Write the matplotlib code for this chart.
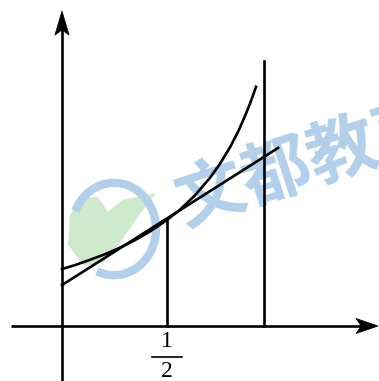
import matplotlib
matplotlib.use("Agg")
import matplotlib.pyplot as plt
from matplotlib.patches import Polygon, Arc

# ---- data (x: 1/2 tick at 0.5) ----
curve_x = [0.0, 0.062, 0.133, 0.205, 0.276, 0.348, 0.419, 0.5, 0.562, 0.633,
           0.705, 0.752, 0.8, 0.838, 0.871, 0.895, 0.924]
curve_y = [0.271, 0.290, 0.315, 0.342, 0.373, 0.409, 0.450, 0.505, 0.554, 0.622,
           0.706, 0.772, 0.851, 0.924, 0.999, 1.058, 1.139]
tangent_x = [0.0, 1.029]
tangent_y = [0.195, 0.848]
half_x = 0.5
half_top = 0.505
right_x = 0.962
right_top = 1.262
watermark = "文都教育"

fig = plt.figure(figsize=(3.79, 3.81), dpi=100)
ax = fig.add_axes([0, 0, 1, 1])
ax.set_xlim(-0.2952, 1.5095)
ax.set_ylim(-0.2619, 1.5524)
ax.axis("off")


def P(px, py):
    return ((px - 62) / 210, (326 - py) / 210)


# watermark (light, behind everything)
blue = "#b3cfe9"
green = "#cfe9cd"
leaf = [P(68, 245), P(70, 215), P(82, 198), P(98, 197), P(108, 212), P(122, 200),
        P(156, 193), P(140, 214), P(122, 240), P(104, 262), P(84, 266)]
ax.add_patch(Polygon(leaf, closed=True, fc=green, ec="none", zorder=0))
cx, cy = P(114, 229)
ax.add_patch(Arc((cx, cy), 0.40, 0.44, theta1=-112, theta2=155,
                 color=blue, lw=6, zorder=0))
tx, ty = P(310, 164)
ax.text(tx, ty, watermark, fontsize=50, fontweight="bold", color=blue,
        family=["Noto Sans CJK SC", "DejaVu Sans"], rotation=18,
        ha="center", va="center", zorder=0)

lw = 1.9
k = "black"
# axes
ax.plot([-0.243, 1.44], [0, 0], color=k, lw=lw, solid_capstyle="butt", zorder=3)
ax.plot([0, 0], [-0.26, 1.42], color=k, lw=lw, solid_capstyle="butt", zorder=3)
ax.add_patch(Polygon([(1.505, 0), (1.40, 0.036), (1.425, 0), (1.40, -0.036)],
                     closed=True, fc=k, ec=k, lw=0.5, zorder=3))
ax.add_patch(Polygon([(0, 1.50), (-0.034, 1.385), (0, 1.41), (0.034, 1.385)],
                     closed=True, fc=k, ec=k, lw=0.5, zorder=3))

# curve, tangent, verticals
ax.plot(curve_x, curve_y, color=k, lw=lw, zorder=3)
ax.plot(tangent_x, tangent_y, color=k, lw=lw, zorder=3)
ax.plot([half_x, half_x], [0, half_top], color=k, lw=lw, zorder=3)
ax.plot([right_x, right_x], [0, right_top], color=k, lw=lw, zorder=3)

# tick label 1/2
ax.text(half_x, -0.072, "1", fontsize=17, family="Liberation Serif",
        ha="center", va="center", zorder=3)
ax.plot([half_x - 0.072, half_x + 0.072], [-0.146, -0.146], color=k, lw=1.2, zorder=3)
ax.text(half_x, -0.215, "2", fontsize=17, family="Liberation Serif",
        ha="center", va="center", zorder=3)

fig.savefig("out.png", dpi=100)
